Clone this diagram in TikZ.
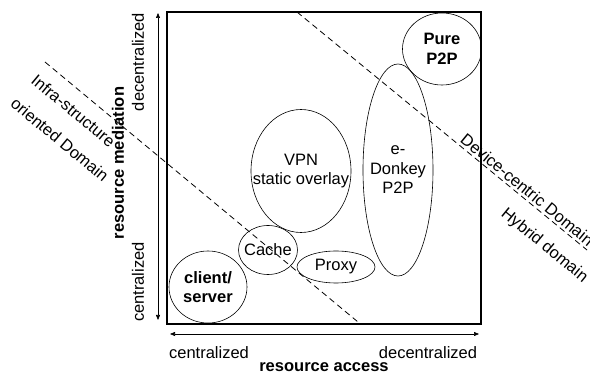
\documentclass[tikz,border=0pt]{standalone}
\usepackage{fontspec}
\setmainfont{Liberation Sans}
\usetikzlibrary{arrows.meta,shapes.geometric}

\begin{document}
\begin{tikzpicture}[
  x=1pt,y=1pt,
  font=\fontsize{16.5}{19.5}\selectfont,
  oval/.style={draw,ellipse,inner sep=0pt,line width=0.6pt},
  tag/.style={align=center,inner sep=0pt},
  heavy/.style={font=\fontsize{16.5}{19.5}\selectfont\bfseries},
  axis/.style={{Triangle[length=5pt,width=4pt]}-{Triangle[length=5pt,width=4pt]},line width=0.6pt},
  split/.style={dash pattern=on 6pt off 4pt,line width=0.8pt},
  zonelabel/.style={sloped,inner sep=0pt}
]
\useasboundingbox (0,0) rectangle (590,375);
% frame and axes
\draw[line width=1.2pt] (167,51) rectangle (481,363);
\coordinate (ybot) at (158,55);
\coordinate (ytop) at (158,362);
\coordinate (xleft) at (170,41);
\coordinate (xright) at (479,41);
\draw[axis] (ybot) -- (ytop);
\draw[axis] (xleft) -- (xright);
\node[rotate=90] (ydec) at (138,313) {decentralized};
\node[rotate=90] (ycen) at (138,93) {centralized};
\node[rotate=90,heavy] (ylabel) at (118,212) {resource mediation};
\node (xcen) at (209,22) {centralized};
\node (xdec) at (428,22) {decentralized};
\node[heavy] (xlabel) at (324,8) {resource access};
% domain borders
\coordinate (infraA) at (45,313);
\coordinate (infraB) at (358,53);
\coordinate (deviceA) at (297,363);
\coordinate (deviceB) at (587,125);
\draw[split] (infraA) -- (infraB);
\draw[split] (deviceA) -- (deviceB);
\path (infraA) -- (infraB)
  node[zonelabel,pos=0.13,below=13pt] (infra) {Infra-structure}
  node[zonelabel,pos=0.15,below=44pt] (oriented) {oriented Domain};
\path (deviceA) -- (deviceB)
  node[zonelabel,pos=0.775,above=2.5pt] (device) {Device-centric Domain}
  node[zonelabel,pos=0.905,below=16pt] (hybrid) {Hybrid domain};
% systems
\node[oval,minimum width=78pt,minimum height=72pt] (cs) at (208,88) {};
\node[tag,heavy] at (cs) {client/\\server};
\node[oval,minimum width=59pt,minimum height=49pt] (cache) at (268,125) {};
\node[tag] at (cache) {Cache};
\node[oval,minimum width=78pt,minimum height=32pt] (proxy) at (336,108) {};
\node[tag] at (proxy) {Proxy};
\node[oval,minimum width=100pt,minimum height=123pt] (vpn) at (301,204) {};
\node[tag] at (vpn) {VPN\\static overlay};
\node[oval,minimum width=70pt,minimum height=212pt] (edonkey) at (398,205) {};
\node[tag] at (edonkey) {e-\\Donkey\\P2P};
\node[oval,minimum width=79pt,minimum height=72pt] (pure) at (442,326) {};
\node[tag,heavy] at (pure) {Pure\\P2P};
\end{tikzpicture}
\end{document}
